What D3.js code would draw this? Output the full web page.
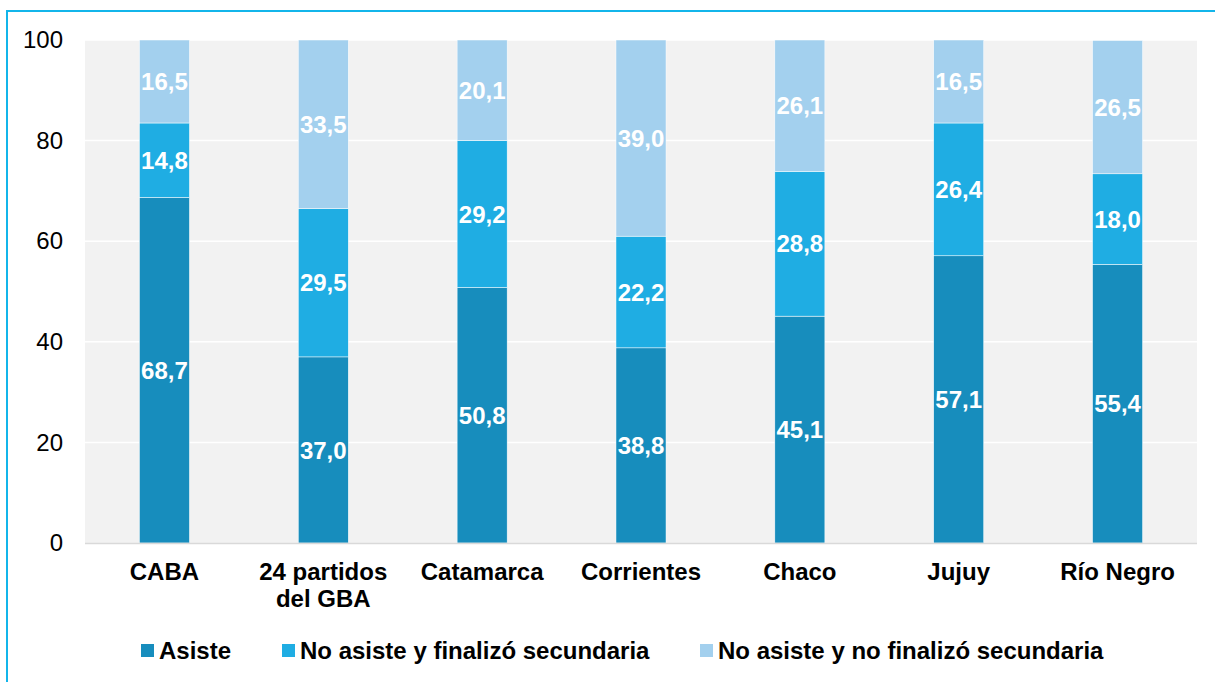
<!DOCTYPE html>
<html>
<head>
<meta charset="utf-8">
<script src="https://cdn.jsdelivr.net/npm/d3@7"></script>
<style>
  body { margin: 0; background: #fff; }
  svg { display: block; font-family: "Liberation Sans", Arial, sans-serif; }
</style>
</head>
<body>
<svg id="screen" width="1215" height="682"></svg>
<script>
const screenEl = document.querySelector("#screen");

// data
const categories = ["CABA", "24 partidos|del GBA", "Catamarca", "Corrientes", "Chaco", "Jujuy", "Río Negro"];
const asiste = [68.7, 37.0, 50.8, 38.8, 45.1, 57.1, 55.4];
const finalizo = [14.8, 29.5, 29.2, 22.2, 28.8, 26.4, 18.0];
const noFinalizo = [16.5, 33.5, 20.1, 39.0, 26.1, 16.5, 26.5];
const seriesNames = ["Asiste", "No asiste y finalizó secundaria", "No asiste y no finalizó secundaria"];
const yTicks = [0, 20, 40, 60, 80, 100];

const colors = ["#178dbd", "#1fade3", "#a3d0ee"];
const fontSize = 24;

const svg = d3.select(screenEl);

// outer frame
svg.append("rect").attr("x", 7).attr("y", 11).attr("width", 1230).attr("height", 700)
  .attr("fill", "none").attr("stroke", "#13b5ea").attr("stroke-width", 2);

const plot = {left: 85, right: 1197, top: 40, bottom: 543};

const x = d3.scaleBand().domain(categories).range([plot.left, plot.right]).paddingInner(0.685).paddingOuter(0.3425);
const y = d3.scaleLinear().domain([0, 100]).range([plot.bottom, plot.top]).clamp(true);

// plot background
svg.append("rect").attr("x", plot.left).attr("y", plot.top)
  .attr("width", plot.right - plot.left).attr("height", plot.bottom - plot.top)
  .attr("fill", "#f2f2f2");

// gridlines
svg.append("g").selectAll("line").data(yTicks.filter(d => d > 0)).join("line")
  .attr("x1", plot.left).attr("x2", plot.right)
  .attr("y1", d => y(d)).attr("y2", d => y(d))
  .attr("stroke", "#fff").attr("stroke-width", 1.5);

// y axis
const yAxis = svg.append("g").attr("transform", `translate(${plot.left},0)`)
  .call(d3.axisLeft(y).tickValues(yTicks).tickSize(0).tickPadding(22));
yAxis.select(".domain").remove();
yAxis.selectAll("text").attr("font-size", fontSize).attr("fill", "#000")
  .attr("font-family", "Liberation Sans, Arial, sans-serif");

// stacked data
const rows = categories.map((c, i) => ({cat: c, s0: asiste[i], s1: finalizo[i], s2: noFinalizo[i]}));
const stack = d3.stack().keys(["s0", "s1", "s2"])(rows);

const layers = svg.append("g").selectAll("g").data(stack).join("g")
  .attr("fill", (d, i) => colors[i]);

layers.selectAll("rect").data(d => d).join("rect")
  .attr("x", d => x(d.data.cat))
  .attr("width", x.bandwidth())
  .attr("y", d => y(d[1]))
  .attr("height", d => y(d[0]) - y(d[1]))
  .attr("stroke", "#fff").attr("stroke-width", 0.5);

layers.selectAll("text").data(d => d.map(v => ({v, key: d.key}))).join("text")
  .attr("x", d => x(d.v.data.cat) + x.bandwidth() / 2)
  .attr("y", d => (y(d.v[0]) + y(Math.min(d.v[1], 100))) / 2)
  .attr("text-anchor", "middle").attr("dy", "0.36em")
  .attr("fill", "#fff").attr("font-size", fontSize).attr("font-weight", "bold")
  .text(d => d3.format(".1f")(d.v.data[d.key]).replace(".", ","));

// baseline
svg.append("line").attr("x1", plot.left).attr("x2", plot.right)
  .attr("y1", plot.bottom + 0.5).attr("y2", plot.bottom + 0.5)
  .attr("stroke", "#d9d9d9").attr("stroke-width", 1.5);

// category labels
const xl = svg.append("g").selectAll("text").data(categories).join("text")
  .attr("x", d => x(d) + x.bandwidth() / 2)
  .attr("y", 580)
  .attr("text-anchor", "middle").attr("font-size", fontSize).attr("font-weight", "bold").attr("fill", "#000");
xl.selectAll("tspan").data(d => d.split("|")).join("tspan")
  .attr("x", function() { return this.parentNode.getAttribute("x"); })
  .attr("dy", (d, i) => i === 0 ? 0 : 27)
  .text(d => d);

// legend
const legendX = [141, 282, 700];
const legend = svg.append("g").selectAll("g").data(seriesNames).join("g")
  .attr("transform", (d, i) => `translate(${legendX[i]},644)`);
legend.append("rect").attr("width", 13).attr("height", 13).attr("fill", (d, i) => colors[i]);
legend.append("text").attr("x", 18).attr("y", 14.5)
  .attr("font-size", fontSize).attr("font-weight", "bold").attr("fill", "#000")
  .text(d => d);
</script>
</body>
</html>
